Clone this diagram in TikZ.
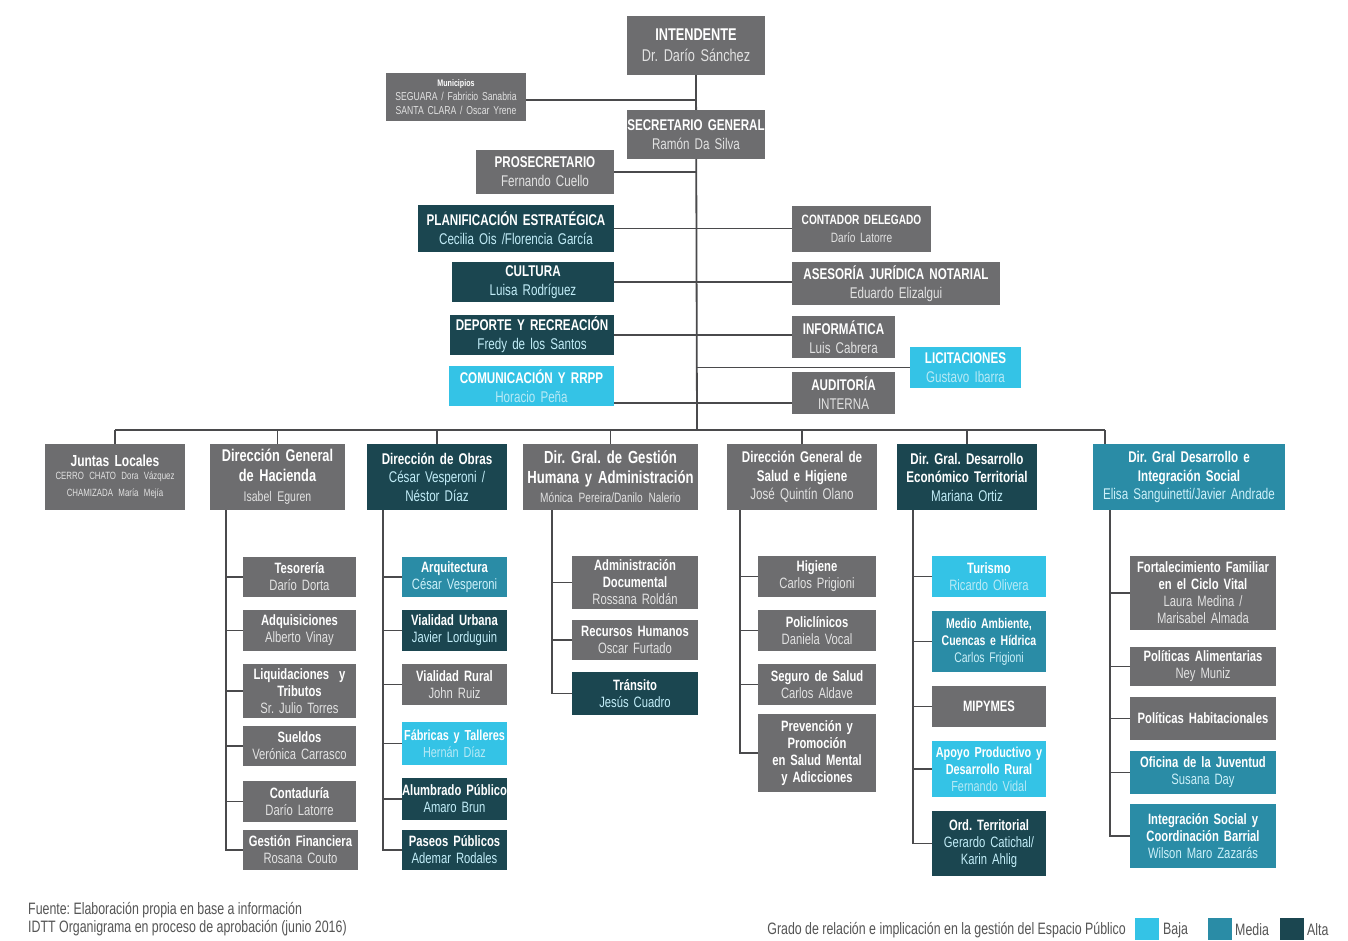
\documentclass[tikz,border=0pt]{standalone}
\usepackage{fontspec}
\setmainfont{Liberation Sans}[FakeStretch=0.75]
\frenchspacing
\definecolor{grayc}{HTML}{6D6D6F}
\definecolor{darkc}{HTML}{1B4650}
\definecolor{medc}{HTML}{2A8CA6}
\definecolor{lightc}{HTML}{34C3E6}
\definecolor{linec}{HTML}{4A4A4C}
\definecolor{footc}{HTML}{555555}
\pgfdeclarelayer{bg}
\pgfsetlayers{bg,main}
\newcommand\ttl[1]{{\bfseries #1}}
\newcommand\nm[1]{{\color{nmc}#1}}
\newcommand\fs[2]{\fontsize{#1}{#2}\selectfont}
\newcommand\bx[7]{%
  \pgfmathsetmacro\bw{#4-#2}\pgfmathsetmacro\bh{#5-#3}\pgfmathsetmacro\tw{#4-#2+8}%
  \node[#6, minimum width=\bw pt, minimum height=\bh pt, text width=\tw pt] (#1) at ({(#2+#4)/2},{(#3+#5)/2}) {#7};}
\begin{document}
\begin{tikzpicture}[x=1pt,y=-1pt,
  bxbase/.style={inner xsep=-4pt, inner ysep=0pt, align=center, text=white, font=\fs{15}{17}},
  gbox/.style={bxbase, fill=grayc, execute at begin node={\colorlet{nmc}{white!80!grayc}}},
  dbox/.style={bxbase, fill=darkc, execute at begin node={\colorlet{nmc}{white!70!lightc}}},
  mbox/.style={bxbase, fill=medc, execute at begin node={\colorlet{nmc}{white!75!lightc}}},
  lbox/.style={bxbase, fill=lightc, execute at begin node={\colorlet{nmc}{white!65!lightc}}},
  conn/.style={draw=linec, line width=1.8pt},
  sw/.style={minimum width=24pt, minimum height=22pt, inner sep=0pt},
  foot/.style={text=footc, font=\fs{16.5}{18}, inner sep=0pt}]
\useasboundingbox (0,0) rectangle (1348,940);
% --- top level
\bx{int}{627}{16}{765}{75}{gbox,font=\fs{17}{21}}{\ttl{INTENDENTE}\\\nm{Dr. Darío Sánchez}}
\bx{mun}{386}{73}{526}{121}{gbox,font=\fs{11.5}{14}}{{\fs{9.5}{14}\ttl{Municipios}}\\\nm{SEGUARA / Fabricio Sanabria}\\\nm{SANTA CLARA / Oscar Yrene}}
\bx{sec}{627}{110}{765}{159}{gbox,font=\fs{15.5}{19}}{\ttl{SECRETARIO GENERAL}\\\nm{Ramón Da Silva}}
\bx{pro}{476}{150}{614}{194}{gbox,font=\fs{15.5}{19}}{\ttl{PROSECRETARIO}\\\nm{Fernando Cuello}}
\bx{plan}{418}{205}{614}{252}{dbox,font=\fs{15.5}{19}}{\ttl{PLANIFICACIÓN ESTRATÉGICA}\\\nm{Cecilia Ois /Florencia García}}
\bx{cont}{792}{206}{931}{252}{gbox,font=\fs{13.5}{18}}{\ttl{CONTADOR DELEGADO}\\\nm{Darío Latorre}}
\bx{cult}{452}{262}{614}{302}{dbox,font=\fs{15.5}{19}}{\ttl{CULTURA}\\\nm{Luisa Rodríguez}}
\bx{ases}{792}{262}{1000}{305}{gbox,font=\fs{15.5}{19}}{\ttl{ASESORÍA JURÍDICA NOTARIAL}\\\nm{Eduardo Elizalgui}}
\bx{dep}{450}{315}{614}{355}{dbox,font=\fs{15.5}{19}}{\ttl{DEPORTE Y RECREACIÓN}\\\nm{Fredy de los Santos}}
\bx{inf}{792}{316}{895}{358}{gbox,font=\fs{15.5}{19}}{\ttl{INFORMÁTICA}\\\nm{Luis Cabrera}}
\bx{lic}{910}{347}{1021}{388}{lbox,font=\fs{15.5}{19}}{\ttl{LICITACIONES}\\\nm{Gustavo Ibarra}}
\bx{com}{449}{366}{614}{406}{lbox,font=\fs{15.5}{19}}{\ttl{COMUNICACIÓN Y RRPP}\\\nm{Horacio Peña}}
\bx{aud}{792}{372}{895}{414}{gbox,font=\fs{15.5}{19}}{\ttl{AUDITORÍA}\\\nm{INTERNA}}
% --- departments
\bx{jl}{45}{444}{185}{510}{gbox,font=\fs{16}{17}}{\ttl{Juntas Locales}\\[1pt]{\fs{10.5}{12}\nm{CERRO CHATO Dora Vázquez}\\\nm{CHAMIZADA María Mejía}}}
\bx{hac}{210}{444}{345}{510}{gbox,font=\fs{17}{20}}{\ttl{Dirección General}\\\ttl{de Hacienda}\\{\fs{14}{16}\nm{Isabel Eguren}}}
\bx{obr}{367}{444}{507}{510}{dbox,font=\fs{15.5}{18.5}}{\ttl{Dirección de Obras}\\\nm{César Vesperoni /}\\\nm{Néstor Díaz}}
\bx{gh}{523}{444}{698}{510}{gbox,font=\fs{17.5}{19.5}}{\ttl{Dir. Gral. de Gestión}\\\ttl{Humana y Administración}\\{\fs{13.5}{16}\nm{Mónica Pereira/Danilo Nalerio}}}
\bx{sal}{727}{444}{877}{510}{gbox,font=\fs{15.5}{18.5}}{\ttl{Dirección General de}\\\ttl{Salud e Higiene}\\\nm{José Quintín Olano}}
\bx{de}{897}{444}{1037}{510}{dbox,font=\fs{15.5}{18.5}}{\ttl{Dir. Gral. Desarrollo}\\\ttl{Económico Territorial}\\\nm{Mariana Ortiz}}
\bx{is}{1093}{444}{1285}{510}{mbox,font=\fs{15.5}{18.5}}{\ttl{Dir. Gral Desarrollo e}\\\ttl{Integración Social}\\\nm{Elisa Sanguinetti/Javier Andrade}}
% --- Hacienda children
\bx{tes}{243}{557}{356}{597}{gbox}{\ttl{Tesorería}\\\nm{Darío Dorta}}
\bx{adq}{243}{610}{356}{651}{gbox}{\ttl{Adquisiciones}\\\nm{Alberto Vinay}}
\bx{liq}{243}{664}{356}{718}{gbox}{\ttl{Liquidaciones\ \ y}\\\ttl{Tributos}\\\nm{Sr. Julio Torres}}
\bx{sue}{243}{726}{356}{766}{gbox}{\ttl{Sueldos}\\\nm{Verónica Carrasco}}
\bx{ctd}{243}{781}{356}{822}{gbox}{\ttl{Contaduría}\\\nm{Darío Latorre}}
\bx{gf}{243}{830}{358}{870}{gbox}{\ttl{Gestión Financiera}\\\nm{Rosana Couto}}
% --- Obras children
\bx{arq}{402}{557}{507}{597}{mbox}{\ttl{Arquitectura}\\\nm{César Vesperoni}}
\bx{vu}{402}{610}{507}{651}{dbox}{\ttl{Vialidad Urbana}\\\nm{Javier Lorduguin}}
\bx{vr}{402}{664}{507}{705}{gbox}{\ttl{Vialidad Rural}\\\nm{John Ruiz}}
\bx{fyt}{402}{722}{507}{765}{lbox,font=\fs{14.5}{17}}{\ttl{Fábricas y Talleres}\\\nm{Hernán Díaz}}
\bx{alu}{402}{778}{507}{820}{dbox}{\ttl{Alumbrado Público}\\\nm{Amaro Brun}}
\bx{pas}{402}{830}{507}{870}{dbox}{\ttl{Paseos Públicos}\\\nm{Ademar Rodales}}
% --- Gestion Humana children
\bx{adm}{572}{556}{698}{609}{gbox}{\ttl{Administración}\\\ttl{Documental}\\\nm{Rossana Roldán}}
\bx{rrhh}{572}{620}{698}{660}{gbox}{\ttl{Recursos Humanos}\\\nm{Oscar Furtado}}
\bx{tra}{572}{672}{698}{715}{dbox}{\ttl{Tránsito}\\\nm{Jesús Cuadro}}
% --- Salud children
\bx{hig}{758}{556}{876}{597}{gbox}{\ttl{Higiene}\\\nm{Carlos Prigioni}}
\bx{pol}{758}{610}{876}{651}{gbox}{\ttl{Policlínicos}\\\nm{Daniela Vocal}}
\bx{seg}{758}{664}{876}{705}{gbox}{\ttl{Seguro de Salud}\\\nm{Carlos Aldave}}
\bx{pre}{758}{714}{876}{792}{gbox}{\ttl{Prevención y}\\\ttl{Promoción}\\\ttl{en Salud Mental}\\\ttl{y Adicciones}}
% --- Desarrollo Economico children
\bx{tur}{932}{556}{1046}{597}{lbox}{\ttl{Turismo}\\\nm{Ricardo Olivera}}
\bx{med}{932}{611}{1046}{672}{mbox,font=\fs{14}{17}}{\ttl{Medio Ambiente,}\\\ttl{Cuencas e Hídrica}\\\nm{Carlos Frigioni}}
\bx{mip}{932}{686}{1046}{727}{gbox}{\ttl{MIPYMES}}
\bx{apo}{932}{741}{1046}{797}{lbox,font=\fs{14.5}{17}}{\ttl{Apoyo Productivo y}\\\ttl{Desarrollo Rural}\\\nm{Fernando Vidal}}
\bx{ord}{932}{811}{1046}{876}{dbox}{\ttl{Ord. Territorial}\\\nm{Gerardo Catichal/}\\\nm{Karin Ahlig}}
% --- Integracion Social children
\bx{fort}{1130}{556}{1276}{630}{gbox}{\ttl{Fortalecimiento Familiar}\\\ttl{en el Ciclo Vital}\\\nm{Laura Medina /}\\\nm{Marisabel Almada}}
\bx{ali}{1130}{647}{1276}{686}{gbox}{\ttl{Políticas Alimentarias}\\\nm{Ney Muniz}}
\bx{hab}{1130}{697}{1276}{740}{gbox}{\ttl{Políticas Habitacionales}}
\bx{juv}{1130}{751}{1276}{794}{mbox}{\ttl{Oficina de la Juventud}\\\nm{Susana Day}}
\bx{isc}{1130}{804}{1276}{868}{mbox}{\ttl{Integración Social y}\\\ttl{Coordinación Barrial}\\\nm{Wilson Maro Zazarás}}
% --- connectors (behind boxes)
\coordinate (bus) at (697,430);
\coordinate (busR) at (1105,430);
\coordinate (c403) at (0,403);
\coordinate (c100) at (0,100);
\coordinate (hx) at (226,510);
\coordinate (ox) at (383,510);
\coordinate (gx) at (552,510);
\coordinate (sx) at (740,510);
\coordinate (dx) at (913,510);
\coordinate (ix) at (1110,510);
\begin{pgfonlayer}{bg}
\fill[white] (0,0) rectangle (1348,940);
\draw[conn] (int.south) -- (bus);
\draw[conn] (mun.east |- c100) -- (bus |- c100);
\draw[conn] (pro.east) -- (pro.east -| bus);
\draw[conn] (plan.east) -- (cont.west |- plan.east);
\draw[conn] (cult.east) -- (ases.west |- cult.east);
\draw[conn] (dep.east) -- (inf.west |- dep.east);
\draw[conn] (bus |- lic.west) -- (lic.west);
\draw[conn] (com.east |- c403) -- (aud.west |- c403);
% bus and drops
\draw[conn] (jl.north |- bus) -- (busR);
\draw[conn] (jl.north |- bus) -- (jl.north);
\draw[conn] (hac.north |- bus) -- (hac.north);
\draw[conn] (obr.north |- bus) -- (obr.north);
\draw[conn] (gh.north |- bus) -- (gh.north);
\draw[conn] (sal.north |- bus) -- (sal.north);
\draw[conn] (de.north |- bus) -- (de.north);
\draw[conn] (busR) -- (busR |- is.north);
% branches
\draw[conn] (hx) -- (hx |- gf.west) -- (gf.west);
\foreach \c in {tes,adq,liq,sue,ctd} \draw[conn] (hx |- \c.west) -- (\c.west);
\draw[conn] (ox) -- (ox |- pas.west) -- (pas.west);
\foreach \c in {arq,vu,vr,fyt,alu} \draw[conn] (ox |- \c.west) -- (\c.west);
\draw[conn] (gx) -- (gx |- tra.west) -- (tra.west);
\foreach \c in {adm,rrhh} \draw[conn] (gx |- \c.west) -- (\c.west);
\draw[conn] (sx) -- (sx |- pre.west) -- (pre.west);
\foreach \c in {hig,pol,seg} \draw[conn] (sx |- \c.west) -- (\c.west);
\draw[conn] (dx) -- (dx |- ord.west) -- (ord.west);
\foreach \c in {tur,med,mip,apo} \draw[conn] (dx |- \c.west) -- (\c.west);
\draw[conn] (ix) -- (ix |- isc.west) -- (isc.west);
\foreach \c in {fort,ali,hab,juv} \draw[conn] (ix |- \c.west) -- (\c.west);
\end{pgfonlayer}
% --- footer
\node[foot, anchor=north west, align=left] (src) at (28,902) {Fuente: Elaboración propia en base a información\\IDTT Organigrama en proceso de aprobación (junio 2016)};
\node[foot, anchor=east] (leg) at (1126,930) {Grado de relación e implicación en la gestión del Espacio Público};
\node[sw, fill=lightc] (swb) at (1147,929) {};
\node[foot, anchor=west] (lb) at (1163,930) {Baja};
\node[sw, fill=medc] (swm) at (1220,929) {};
\node[foot, anchor=west] (lm) at (1235,930) {Media};
\node[sw, fill=darkc] (swa) at (1292,929) {};
\node[foot, anchor=west] (la) at (1307,930) {Alta};
\end{tikzpicture}
\end{document}
